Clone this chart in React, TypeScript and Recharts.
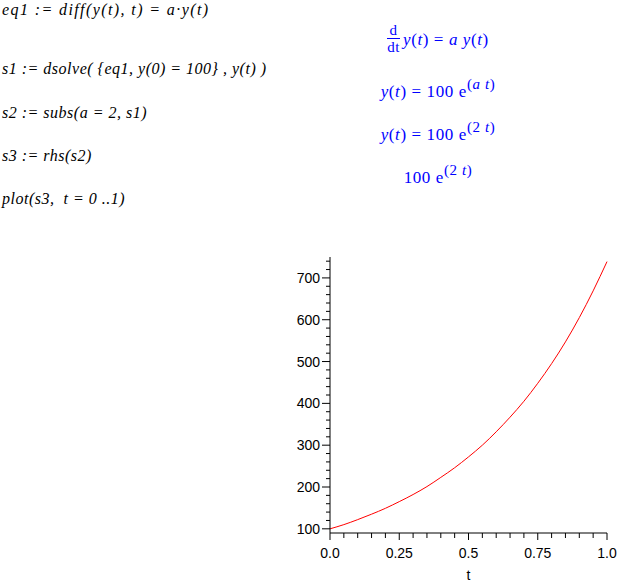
import { LineChart, Line, XAxis, YAxis } from "recharts";

// t samples and 100*e^(2t)
const tValues = [0, 0.05, 0.1, 0.15, 0.2, 0.25, 0.3, 0.35, 0.4, 0.45, 0.5, 0.55, 0.6, 0.65, 0.7, 0.75, 0.8, 0.85, 0.9, 0.95, 1.0];
const yValues = [100, 110, 122, 135, 149, 165, 182, 201, 223, 246, 272, 300, 332, 367, 405, 448, 495, 547, 605, 669, 739];

const xTicks = [0, 0.05, 0.1, 0.15, 0.2, 0.25, 0.3, 0.35, 0.4, 0.45, 0.5, 0.55, 0.6, 0.65, 0.7, 0.75, 0.8, 0.85, 0.9, 0.95, 1.0];
const xMajor: Record<string, string> = { "0": "0.0", "0.25": "0.25", "0.5": "0.5", "0.75": "0.75", "1": "1.0" };
const yTicks = [100, 120, 140, 160, 180, 200, 220, 240, 260, 280, 300, 320, 340, 360, 380, 400, 420, 440, 460, 480, 500, 520, 540, 560, 580, 600, 620, 640, 660, 680, 700, 720, 740];
const yMajor = [100, 200, 300, 400, 500, 600, 700];

const data = tValues.map((t, i) => ({ t, y: yValues[i] }));

const AXIS_FONT = "'Liberation Sans', Arial, sans-serif";
const MATH_FONT = "'Liberation Serif', 'Times New Roman', serif";

function YTick(props: any) {
  const { x, y, payload } = props;
  const major = yMajor.includes(payload.value);
  return (
    <g>
      <line x1={x - (major ? 8 : 4)} x2={x} y1={y} y2={y} stroke="#000" />
      {major && (
        <text x={x - 10} y={y} dy={5} textAnchor="end" fontSize={14} fontFamily={AXIS_FONT} fill="#000">
          {payload.value}
        </text>
      )}
    </g>
  );
}

function XTick(props: any) {
  const { x, y, payload } = props;
  const label = xMajor[String(payload.value)];
  return (
    <g>
      <line x1={x} x2={x} y1={y} y2={y + (label ? 7 : 5)} stroke="#000" />
      {label && (
        <text x={x} y={y + 25} textAnchor="middle" fontSize={14} fontFamily={AXIS_FONT} fill="#000">
          {label}
        </text>
      )}
    </g>
  );
}

const cmd: React.CSSProperties = {
  position: "absolute",
  left: 2,
  fontFamily: MATH_FONT,
  fontStyle: "italic",
  fontSize: 16,
  letterSpacing: 0.5,
  whiteSpace: "pre",
  lineHeight: 1,
};

const out: React.CSSProperties = {
  position: "absolute",
  left: 320,
  width: 236,
  textAlign: "center",
  fontFamily: MATH_FONT,
  fontSize: 17,
  letterSpacing: 0.6,
  color: "#0000ff",
  whiteSpace: "pre",
  lineHeight: 1,
};

const it: React.CSSProperties = { fontStyle: "italic" };
const sup: React.CSSProperties = { fontSize: 15, position: "relative", top: -8 };

export default function App() {
  return (
    <div style={{ position: "absolute", left: 0, top: 0, width: 643, height: 584, background: "#fff" }}>
      <div style={{ ...cmd, top: 2, letterSpacing: 1.4 }}>{"eq1 := diff(y(t), t) = a·y(t)"}</div>
      <div style={{ ...cmd, top: 61 }}>{"s1 := dsolve( {eq1, y(0) = 100} , y(t) )"}</div>
      <div style={{ ...cmd, top: 105 }}>{"s2 := subs(a = 2, s1)"}</div>
      <div style={{ ...cmd, top: 148 }}>{"s3 := rhs(s2)"}</div>
      <div style={{ ...cmd, top: 191 }}>{"plot(s3,  t = 0 ..1)"}</div>

      <div style={{ ...out, top: 21 }}>
        <span style={{ display: "inline-flex", alignItems: "center" }}>
          <span style={{ display: "inline-flex", flexDirection: "column", alignItems: "center", fontSize: 15, marginRight: 3 }}>
            <span>d</span>
            <span style={{ borderTop: "1px solid #0000ff", paddingTop: 1 }}>dt</span>
          </span>
          <span><span style={it}>y</span>(<span style={it}>t</span>) = <span style={it}>a y</span>(<span style={it}>t</span>)</span>
        </span>
      </div>
      <div style={{ ...out, top: 83 }}>
        <span style={it}>y</span>(<span style={it}>t</span>) = 100 e<span style={sup}>(<span style={it}>a t</span>)</span>
      </div>
      <div style={{ ...out, top: 126 }}>
        <span style={it}>y</span>(<span style={it}>t</span>) = 100 e<span style={sup}>(2 <span style={it}>t</span>)</span>
      </div>
      <div style={{ ...out, top: 169 }}>
        100 e<span style={sup}>(2 <span style={it}>t</span>)</span>
      </div>

      <div style={{ position: "absolute", left: 0, top: 0 }}>
        <LineChart width={643} height={584} data={data} margin={{ top: 257, right: 36, bottom: 0, left: 270 }}>
          <XAxis
            dataKey="t"
            type="number"
            domain={[0, 1]}
            ticks={xTicks}
            height={51}
            tickSize={0}
            tickMargin={0}
            tick={<XTick />}
            axisLine={{ stroke: "#000" }}
            interval={0}
            label={{ value: "t", position: "insideBottom", offset: 4, fontSize: 14, fontFamily: AXIS_FONT, fill: "#000" }}
          />
          <YAxis
            type="number"
            domain={[90, 750]}
            ticks={yTicks}
            width={60}
            tickSize={0}
            tickMargin={0}
            tick={<YTick />}
            axisLine={{ stroke: "#000" }}
            interval={0}
          />
          <Line dataKey="y" type="monotone" stroke="#ff0000" strokeWidth={1} dot={false} isAnimationActive={false} />
        </LineChart>
      </div>
    </div>
  );
}
